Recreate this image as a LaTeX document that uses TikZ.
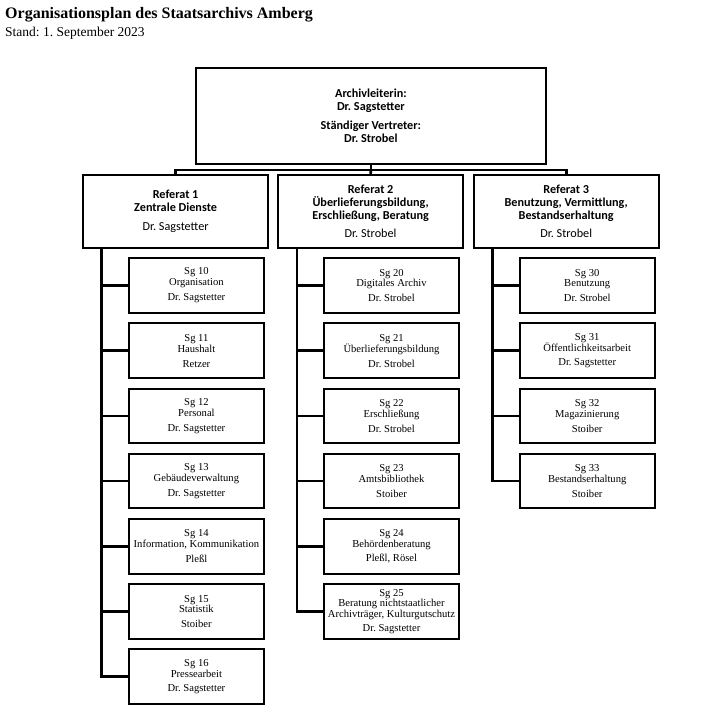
\documentclass[tikz,border=0pt]{standalone}
\usepackage{fontspec}
\setmainfont{Liberation Serif}
\newfontfamily\calibri{Carlito}
\usepackage{tikz}
\frenchspacing

\tikzset{
  leitbox/.style={draw, line width=2pt, minimum width=349.7pt, minimum height=96.3pt, align=center, inner sep=0pt,
    font=\calibri\bfseries\fontsize{12.2}{13.3}\selectfont},
  refbox/.style={draw, line width=2pt, minimum width=185pt, minimum height=72.7pt, align=center, inner sep=0pt,
    font=\calibri\bfseries\fontsize{12.2}{13.3}\selectfont},
  sgbox/.style={draw, line width=2pt, minimum width=135pt, minimum height=54.5pt, align=center, inner sep=0pt,
    font=\fontsize{10.6}{10.9}\selectfont},
  linie/.style={line width=2.6pt}
}

\begin{document}
\begin{tikzpicture}[x=1pt,y=-1pt]
\useasboundingbox (0,0) rectangle (703,719);
%Heading
\node[anchor=base west, inner sep=0pt, font=\fontsize{16}{18}\selectfont\bfseries] (titel) at (5,18.5) {Organisationsplan des Staatsarchivs Amberg};
\node[anchor=base west, inner sep=0pt, font=\fontsize{13.5}{15}\selectfont] (stand) at (5,37) {Stand: 1. September 2023};
%Leitung and Referate
\node[leitbox] (leitung) at (370.9,115.9) {Archivleiterin:\\Dr. Sagstetter\\[5.5pt]Ständiger Vertreter:\\Dr. Strobel};
\node[refbox] (ref1) at (175.6,211.3) {Referat 1\\Zentrale Dienste\\[6pt]{\mdseries Dr. Sagstetter}};
\node[refbox] (ref2) at (370.6,211.3) {Referat 2\\Überlieferungsbildung,\\Erschließung, Beratung\\[5pt]{\mdseries Dr. Strobel}};
\node[refbox] (ref3) at (566.2,211.3) {Referat 3\\Benutzung, Vermittlung,\\Bestandserhaltung\\[5pt]{\mdseries Dr. Strobel}};
%Sachgebiete Referat 1
\node[sgbox] (sg10) at (196.4,285.5) {Sg 10\\Organisation\\[4pt]Dr. Sagstetter};
\node[sgbox] (sg11) at (196.4,350.7) {Sg 11\\Haushalt\\[4pt]Retzer};
\node[sgbox] (sg12) at (196.4,415.9) {Sg 12\\Personal\\[4pt]Dr. Sagstetter};
\node[sgbox] (sg13) at (196.4,481.1) {Sg 13\\Gebäudeverwaltung\\[4pt]Dr. Sagstetter};
\node[sgbox] (sg14) at (196.4,546.3) {Sg 14\\Information, Kommunikation\\[4pt]Pleßl};
\node[sgbox] (sg15) at (196.4,611.5) {Sg 15\\Statistik\\[4pt]Stoiber};
\node[sgbox] (sg16) at (196.4,676.7) {Sg 16\\Pressearbeit\\[4pt]Dr. Sagstetter};
%Sachgebiete Referat 2
\node[sgbox] (sg20) at (391.5,285.5) {Sg 20\\Digitales Archiv\\[4pt]Dr. Strobel};
\node[sgbox] (sg21) at (391.5,350.7) {Sg 21\\Überlieferungsbildung\\[4pt]Dr. Strobel};
\node[sgbox] (sg22) at (391.5,415.9) {Sg 22\\Erschließung\\[4pt]Dr. Strobel};
\node[sgbox] (sg23) at (391.5,481.1) {Sg 23\\Amtsbibliothek\\[4pt]Stoiber};
\node[sgbox] (sg24) at (391.5,546.3) {Sg 24\\Behördenberatung\\[4pt]Pleßl, Rösel};
\node[sgbox] (sg25) at (391.5,611.5) {Sg 25\\Beratung nichtstaatlicher\\Archivträger, Kulturgutschutz\\[3pt]Dr. Sagstetter};
%Sachgebiete Referat 3
\node[sgbox] (sg30) at (587.2,285.5) {Sg 30\\Benutzung\\[4pt]Dr. Strobel};
\node[sgbox] (sg31) at (587.2,350.7) {Sg 31\\Öffentlichkeitsarbeit\\[4pt]Dr. Sagstetter};
\node[sgbox] (sg32) at (587.2,415.9) {Sg 32\\Magazinierung\\[4pt]Stoiber};
\node[sgbox] (sg33) at (587.2,481.1) {Sg 33\\Bestandserhaltung\\[4pt]Stoiber};
%Drawing connectors
\coordinate (bus) at (370.9,170);
\coordinate (st1) at (101.7,250);
\coordinate (st2) at (297,250);
\coordinate (st3) at (492.5,250);
\draw[linie] (leitung.south) -- (bus);
\draw[linie] (ref1.north) |- (bus) -| (ref3.north);
\draw[linie] (bus) -- (ref2.north);
\draw[linie] (ref1.south -| st1) |- (sg16.west);
\draw[linie] (sg10.west -| st1) -- (sg10.west);
\draw[linie] (sg11.west -| st1) -- (sg11.west);
\draw[linie] (sg12.west -| st1) -- (sg12.west);
\draw[linie] (sg13.west -| st1) -- (sg13.west);
\draw[linie] (sg14.west -| st1) -- (sg14.west);
\draw[linie] (sg15.west -| st1) -- (sg15.west);
\draw[linie] (ref2.south -| st2) |- (sg25.west);
\draw[linie] (sg20.west -| st2) -- (sg20.west);
\draw[linie] (sg21.west -| st2) -- (sg21.west);
\draw[linie] (sg22.west -| st2) -- (sg22.west);
\draw[linie] (sg23.west -| st2) -- (sg23.west);
\draw[linie] (sg24.west -| st2) -- (sg24.west);
\draw[linie] (ref3.south -| st3) |- (sg33.west);
\draw[linie] (sg30.west -| st3) -- (sg30.west);
\draw[linie] (sg31.west -| st3) -- (sg31.west);
\draw[linie] (sg32.west -| st3) -- (sg32.west);
\end{tikzpicture}
\end{document}
